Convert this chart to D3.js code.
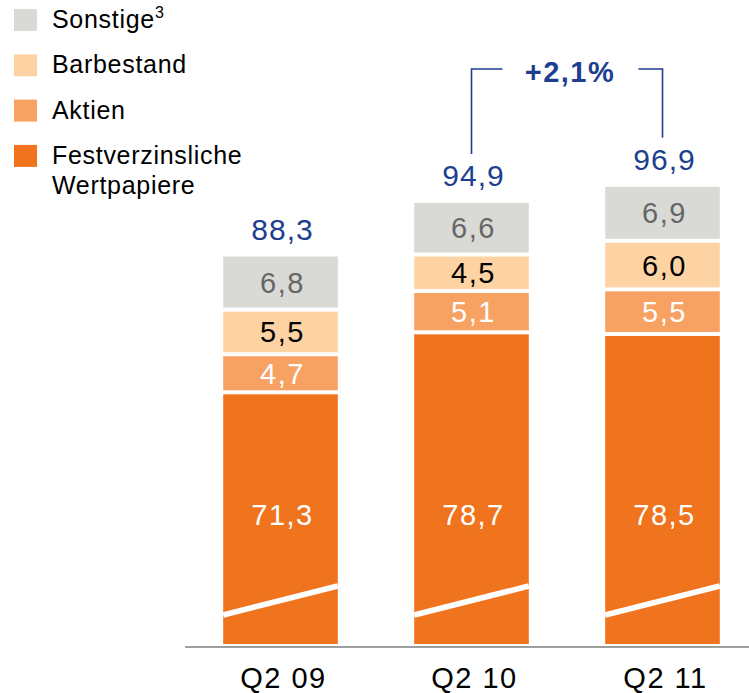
<!DOCTYPE html>
<html>
<head>
<meta charset="utf-8">
<script src="https://cdn.jsdelivr.net/npm/d3@7"></script>
<style>
  body { margin: 0; background: #fff; }
  svg { display: block; font-family: "Liberation Sans", Arial, sans-serif; }
</style>
</head>
<body>
<svg width="749" height="693"></svg>
<script>
// Data
const quarters = ["Q2 09", "Q2 10", "Q2 11"];
const festverzinsliche = [71.3, 78.7, 78.5];
const aktien = [4.7, 5.1, 5.5];
const barbestand = [5.5, 4.5, 6.0];
const sonstige = [6.8, 6.6, 6.9];

const seriesKeys = ["fest", "aktien", "bar", "sonst"];
const legendLabels = ["Sonstige", "Barbestand", "Aktien", "Festverzinsliche Wertpapiere"];
const colors = { fest: "#f0731e", aktien: "#f7a263", bar: "#fdd3a4", sonst: "#d9d9d6" };
const labelColors = { fest: "#ffffff", aktien: "#ffffff", bar: "#000000", sonst: "#666666" };
const blue = "#1e3f8f";

const fmt = (v) => d3.format(".1f")(v).replace(".", ",");

// table for d3.stack
const rows = quarters.map((q, i) => ({
  q: q,
  fest: festverzinsliche[i],
  aktien: aktien[i],
  bar: barbestand[i],
  sonst: sonstige[i],
}));
const stacked = d3.stack().keys(seriesKeys)(rows);

const svg = d3.select("svg");

const x = d3.scaleBand()
  .domain(quarters)
  .range([185, 758])
  .paddingInner(0.4)
  .paddingOuter(0.2);

// the bottom segment is cut (broken axis), so the scale starts above zero
const y = d3.scaleLinear().domain([40.5, 97]).range([644, 186]).clamp(true);

const gap = 4;

// bars
const layer = svg.append("g")
  .selectAll("g")
  .data(stacked)
  .join("g")
  .attr("fill", (d) => colors[d.key]);

layer.selectAll("rect")
  .data((d, i) => d.map((p) => ({ p: p, idx: i })))
  .join("rect")
  .attr("x", (d) => x(d.p.data.q))
  .attr("y", (d) => y(d.p[1]))
  .attr("width", x.bandwidth())
  .attr("height", (d) => y(d.p[0]) - y(d.p[1]) - (d.idx > 0 ? gap : 0));

// break marks in the bottom segment
svg.append("g")
  .selectAll("line")
  .data(quarters)
  .join("line")
  .attr("x1", (d) => x(d))
  .attr("x2", (d) => x(d) + x.bandwidth())
  .attr("y1", 615)
  .attr("y2", 586)
  .attr("stroke", "#fff")
  .attr("stroke-width", 5.6);

// segment labels
stacked.forEach((s, i) => {
  svg.append("g")
    .selectAll("text")
    .data(s)
    .join("text")
    .attr("x", (d) => x(d.data.q) + x.bandwidth() / 2 + 2)
    .attr("y", (d) => {
      if (i === 0) return 525;
      const top = y(d[1]);
      const bottom = y(d[0]) - gap;
      return (top + bottom) / 2 + 10.5;
    })
    .attr("text-anchor", "middle")
    .attr("font-size", 29)
    .attr("letter-spacing", 1.5)
    .attr("fill", labelColors[s.key])
    .text((d) => fmt(d.data[s.key]));
});

// totals
const totals = rows.map((r) => r.fest + r.aktien + r.bar + r.sonst);
svg.append("g")
  .selectAll("text")
  .data(quarters)
  .join("text")
  .attr("x", (d) => x(d) + x.bandwidth() / 2 + 2)
  .attr("y", (d, i) => y(totals[i]) - 17)
  .attr("text-anchor", "middle")
  .attr("font-size", 30)
  .attr("letter-spacing", 1)
  .attr("fill", blue)
  .text((d, i) => fmt(totals[i]));

// growth bracket between last two bars
const cx1 = x(quarters[1]) + x.bandwidth() / 2;
const cx2 = x(quarters[2]) + x.bandwidth() / 2;
const topY = 69;
const growth = (totals[2] / totals[1] - 1) * 100;

svg.append("path")
  .attr("d", "M" + cx1 + "," + (y(totals[1]) - 49) + "V" + topY + "H" + (cx1 + 31) +
    "M" + (cx2 - 24) + "," + topY + "H" + cx2 + "V" + (y(totals[2]) - 49))
  .attr("fill", "none")
  .attr("stroke", blue)
  .attr("stroke-width", 1.6);

svg.append("text")
  .attr("x", (cx1 + cx2) / 2 + 3)
  .attr("y", 82)
  .attr("text-anchor", "middle")
  .attr("font-size", 29)
  .attr("font-weight", "bold")
  .attr("letter-spacing", 1.5)
  .attr("fill", blue)
  .text("+" + fmt(growth) + "%");

// x axis
const xAxis = svg.append("g")
  .attr("transform", "translate(0,647)")
  .call(d3.axisBottom(x).tickSize(0).tickPadding(20));
xAxis.select(".domain").remove();
xAxis.selectAll("text")
  .attr("font-size", 29)
  .attr("font-family", "Liberation Sans, Arial, sans-serif")
  .attr("letter-spacing", 1.5)
  .attr("fill", "#000")
  .attr("dx", 3);
svg.append("line")
  .attr("x1", 185)
  .attr("x2", 749)
  .attr("y1", 647)
  .attr("y2", 647)
  .attr("stroke", "#7f7f7f")
  .attr("stroke-width", 1.6);

// legend
const legendKeys = ["sonst", "bar", "aktien", "fest"];
const legend = svg.append("g")
  .selectAll("g")
  .data(legendKeys)
  .join("g")
  .attr("transform", (d, i) => "translate(14," + (9 + i * 45.3) + ")");

legend.append("rect")
  .attr("width", 23)
  .attr("height", 22)
  .attr("fill", (d) => colors[d]);

legend.each(function (d, i) {
  const t = d3.select(this).append("text")
    .attr("x", 38)
    .attr("y", 19)
    .attr("font-size", 25)
    .attr("letter-spacing", 0.7)
    .attr("fill", "#000");
  if (i === 0) {
    t.append("tspan").text(legendLabels[0]);
    t.append("tspan").attr("font-size", 16).attr("dy", -10).text("3");
  } else if (i === 3) {
    const words = legendLabels[3].split(" ");
    t.append("tspan").attr("x", 38).text(words[0]);
    t.append("tspan").attr("x", 38).attr("dy", 30).text(words[1]);
  } else {
    t.text(legendLabels[i]);
  }
});
</script>
</body>
</html>
